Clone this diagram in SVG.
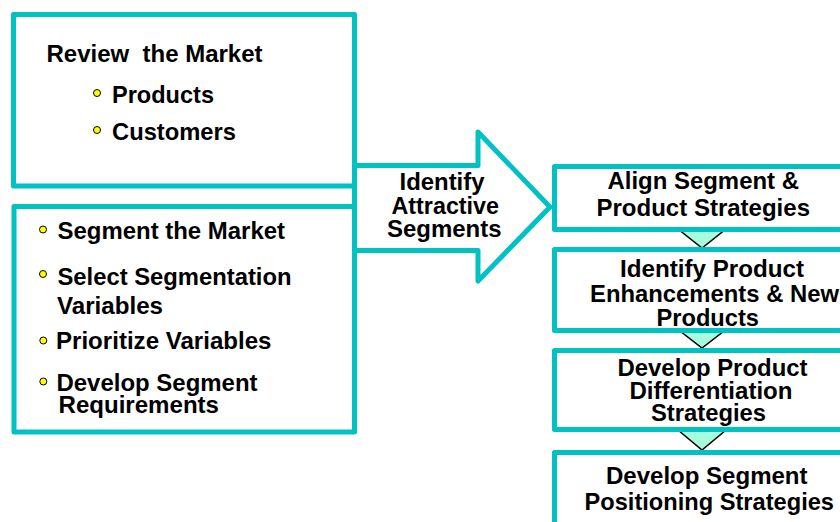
<svg xmlns="http://www.w3.org/2000/svg" width="840" height="522" viewBox="0 0 840 522">
<style>
.box{fill:#fff;stroke:#00C2C2;stroke-width:5;stroke-linejoin:round}
.tri{fill:#A6FCDC;stroke:#000;stroke-width:1.5;stroke-linejoin:miter}
.t{font-family:"Liberation Sans",Arial,Helvetica,sans-serif;font-weight:bold;fill:#000;font-size:24px}
.bul{fill:#FFFF00;stroke:#000;stroke-width:1}
</style>
<rect width="840" height="522" fill="#fff"/>
<g id="connectors">
<polygon class="tri" points="678,229 726,229 702,248"/>
<polygon class="tri" points="680,331 724,331 702,348"/>
<polygon class="tri" points="678,430 726,430 702,450"/>
</g>
<g id="review-market">
<rect class="box" x="13.5" y="14.5" width="341" height="171.5"/>
<text class="t" x="46.5" y="61.5" textLength="216" lengthAdjust="spacingAndGlyphs" xml:space="preserve">Review  the Market</text>
<circle class="bul" cx="97" cy="93" r="3.5"/>
<text class="t" x="112" y="103.3" textLength="102" lengthAdjust="spacingAndGlyphs">Products</text>
<circle class="bul" cx="97" cy="130" r="3.5"/>
<text class="t" x="112" y="140" textLength="124" lengthAdjust="spacingAndGlyphs">Customers</text>
</g>
<g id="segment-market">
<rect class="box" x="14" y="206.5" width="340.5" height="225.5"/>
<circle class="bul" cx="43" cy="229.5" r="3.5"/>
<text class="t" x="57.5" y="239" textLength="227.5" lengthAdjust="spacingAndGlyphs">Segment the Market</text>
<circle class="bul" cx="43" cy="274" r="3.5"/>
<text class="t" x="57.5" y="284.5" textLength="234" lengthAdjust="spacingAndGlyphs">Select Segmentation</text>
<text class="t" x="57" y="314" textLength="106" lengthAdjust="spacingAndGlyphs">Variables</text>
<circle class="bul" cx="43.3" cy="340.5" r="3.5"/>
<text class="t" x="56" y="349.3" textLength="215.5" lengthAdjust="spacingAndGlyphs">Prioritize Variables</text>
<circle class="bul" cx="43.3" cy="381.5" r="3.5"/>
<text class="t" x="56.5" y="390.7" textLength="201" lengthAdjust="spacingAndGlyphs">Develop Segment</text>
<text class="t" x="58.5" y="413.3" textLength="160.5" lengthAdjust="spacingAndGlyphs">Requirements</text>
</g>
<g id="identify-segments">
<polygon class="box" points="354.5,165.5 478,165.5 478,132 550,207 478,281 478,250.5 354.5,250.5"/>
<text class="t" x="399.5" y="190.2" textLength="85" lengthAdjust="spacingAndGlyphs">Identify</text>
<text class="t" x="391.5" y="214" textLength="107.5" lengthAdjust="spacingAndGlyphs">Attractive</text>
<text class="t" x="387" y="236.7" textLength="114.5" lengthAdjust="spacingAndGlyphs">Segments</text>
</g>
<g id="align-strategies">
<rect class="box" x="554.5" y="166.5" width="300" height="63"/>
<text class="t" x="607.5" y="189" textLength="191.5" lengthAdjust="spacingAndGlyphs">Align Segment &amp;</text>
<text class="t" x="596.5" y="215.7" textLength="213.5" lengthAdjust="spacingAndGlyphs">Product Strategies</text>
</g>
<g id="product-enhancements">
<rect class="box" x="554.5" y="249.5" width="300" height="81"/>
<text class="t" x="620" y="276.7" textLength="184" lengthAdjust="spacingAndGlyphs">Identify Product</text>
<text class="t" x="590" y="302.4" textLength="249" lengthAdjust="spacingAndGlyphs">Enhancements &amp; New</text>
<text class="t" x="656.5" y="325.7" textLength="102.5" lengthAdjust="spacingAndGlyphs">Products</text>
</g>
<g id="differentiation">
<rect class="box" x="554.5" y="350.5" width="300" height="79"/>
<text class="t" x="617.5" y="375.7" textLength="190" lengthAdjust="spacingAndGlyphs">Develop Product</text>
<text class="t" x="629.5" y="399" textLength="163" lengthAdjust="spacingAndGlyphs">Differentiation</text>
<text class="t" x="651" y="420.7" textLength="115" lengthAdjust="spacingAndGlyphs">Strategies</text>
</g>
<g id="positioning">
<rect class="box" x="554.5" y="452.5" width="300" height="100"/>
<text class="t" x="606" y="484.3" textLength="201.5" lengthAdjust="spacingAndGlyphs">Develop Segment</text>
<text class="t" x="584.5" y="510.3" textLength="249.5" lengthAdjust="spacingAndGlyphs">Positioning Strategies</text>
</g>
</svg>
